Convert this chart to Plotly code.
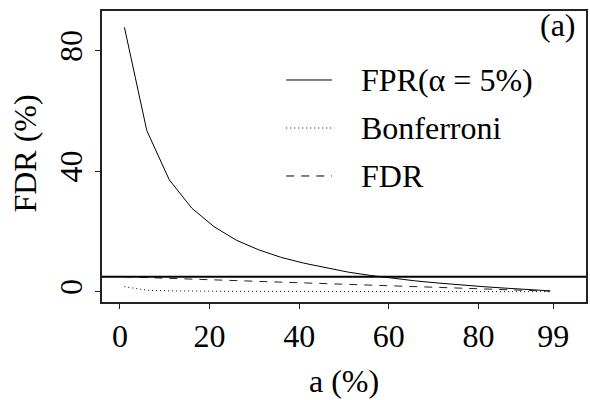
import plotly.graph_objects as go

# ---- data ----
A_PERCENT = [1, 6, 11, 16, 21, 26, 31, 36, 41, 46, 51, 56, 61, 66, 71, 76, 81, 86, 91, 96]
FPR = [87.8, 53.5, 37.2, 27.8, 21.6, 17.1, 13.9, 11.4, 9.5, 7.9, 6.5, 5.4, 4.4, 3.6, 2.9, 2.2, 1.7, 1.2, 0.7, 0.3]
BONFERRONI = [1.7, 0.5, 0.3, 0.2, 0.2, 0.15, 0.15, 0.1, 0.1, 0.1, 0.1, 0.1, 0.1, 0.05, 0.05, 0.05, 0.05, 0.05, 0.05, 0.02]
FDR = [4.95, 4.7, 4.45, 4.2, 3.95, 3.7, 3.45, 3.2, 2.95, 2.7, 2.45, 2.2, 1.95, 1.7, 1.45, 1.2, 0.95, 0.7, 0.45, 0.2]
ALPHA_LEVEL = 5

X_TICK_VALUES = [0, 20, 40, 60, 80, 96.7]
X_TICK_LABELS = ["0", "20", "40", "60", "80", "99"]
Y_TICK_VALUES = [0, 40, 80]
Y_TICK_LABELS = ["0", "40", "80"]

LEGEND_LABELS = ["FPR(α = 5%)", "Bonferroni", "FDR"]
LEGEND_DASH = ["solid", "1px,3px", "8px,7px"]

FONT = "Liberation Serif"
FS = 32

fig = go.Figure()
fig.add_trace(go.Scatter(x=A_PERCENT, y=FPR, mode="lines",
                         line=dict(color="black", width=1)))
fig.add_trace(go.Scatter(x=A_PERCENT, y=BONFERRONI, mode="lines",
                         line=dict(color="black", width=1, dash="1px,3px")))
fig.add_trace(go.Scatter(x=A_PERCENT, y=FDR, mode="lines",
                         line=dict(color="#222", width=1, dash="8px,7px")))
fig.add_hline(y=ALPHA_LEVEL, line=dict(color="black", width=2))

# manual legend (R style, no box)
row_y = [0.7629, 0.5979, 0.4330]
for lab, dash, yy in zip(LEGEND_LABELS, LEGEND_DASH, row_y):
    fig.add_shape(type="line", xref="paper", yref="paper",
                  x0=0.3807, x1=0.4753, y0=yy, y1=yy,
                  line=dict(color="black", width=1, dash=dash))
    fig.add_annotation(text=lab, xref="paper", yref="paper", x=0.5309, y=yy,
                       xanchor="left", yanchor="middle", showarrow=False,
                       font=dict(family=FONT, size=FS, color="black"))

fig.add_annotation(text="(a)", xref="paper", yref="paper", x=0.9835, y=0.9519,
                   xanchor="right", yanchor="middle", showarrow=False,
                   font=dict(family=FONT, size=FS, color="black"))
fig.add_annotation(text="a (%)", xref="paper", yref="paper", x=0.5, y=-0.2715,
                   xanchor="center", yanchor="middle", showarrow=False,
                   font=dict(family=FONT, size=FS, color="black"))
fig.add_annotation(text="FDR (%)", xref="paper", yref="paper", x=-0.160, y=0.5086,
                   xanchor="center", yanchor="middle", showarrow=False, textangle=-90,
                   font=dict(family=FONT, size=FS, color="black"))

fig.update_layout(
    width=590, height=400,
    margin=dict(l=102, r=2, t=11, b=98),
    paper_bgcolor="white", plot_bgcolor="white",
    showlegend=False,
    font=dict(family=FONT, size=FS, color="black"),
)
fig.update_xaxes(range=[-4, 104], tickvals=X_TICK_VALUES, ticktext=X_TICK_LABELS,
                 showgrid=False, zeroline=False, showline=True, mirror=True,
                 linecolor="#222", linewidth=1.5, ticks="outside", ticklen=5,
                 tickcolor="#222", tickfont=dict(family=FONT, size=FS, color="black"))
fig.update_yaxes(range=[-3.4, 93.2], tickvals=Y_TICK_VALUES, ticktext=Y_TICK_LABELS,
                 showgrid=False, zeroline=False, showline=True, mirror=True,
                 linecolor="#222", linewidth=1.5, ticks="outside", ticklen=5,
                 tickcolor="#222", tickangle=-90,
                 tickfont=dict(family=FONT, size=FS, color="black"))

fig.write_html("out.html")
